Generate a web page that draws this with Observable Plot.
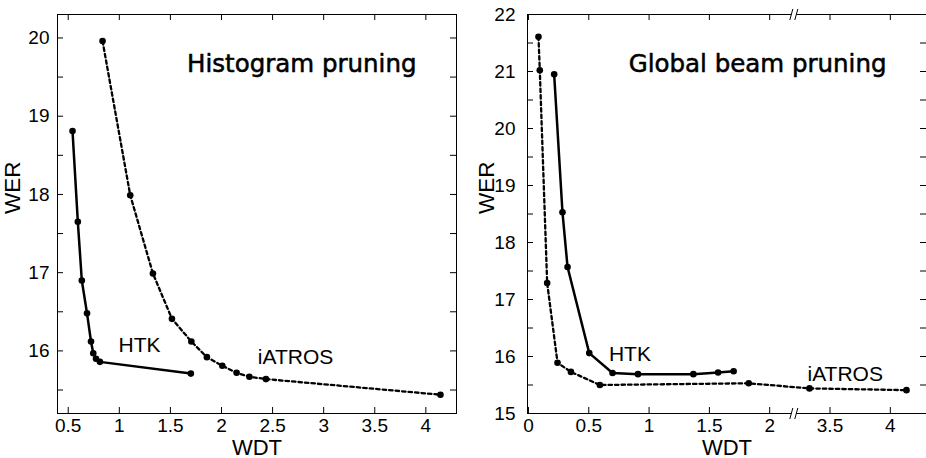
<!DOCTYPE html>
<html><head><meta charset="utf-8">
<script src="https://cdn.jsdelivr.net/npm/d3@7"></script>
<script src="https://cdn.jsdelivr.net/npm/@observablehq/plot@0.6"></script>
<style>
body{margin:0;background:#fff;}
#wrap{display:flex;width:926px;height:458px;overflow:hidden;background:#fff;}
#wrap svg{display:block;flex:none;}
</style></head><body><div id="wrap"></div>
<script>
// ---- Left panel: Histogram pruning ----
const histTitle = "Histogram pruning";
const histHtkWdt = [0.542, 0.594, 0.633, 0.684, 0.723, 0.745, 0.772, 0.81, 1.70];
const histHtkWer = [18.81, 17.65, 16.90, 16.48, 16.12, 15.97, 15.90, 15.86, 15.71];
const histIatrosWdt = [0.836, 1.107, 1.329, 1.515, 1.705, 1.857, 2.008, 2.148, 2.273, 2.435, 4.143];
const histIatrosWer = [19.96, 17.99, 16.99, 16.41, 16.12, 15.92, 15.81, 15.72, 15.67, 15.64, 15.44];
const histXTicks = [0.5, 1, 1.5, 2, 2.5, 3, 3.5, 4];
const histYTicks = [16, 17, 18, 19, 20];
const histYMinorTicks = [15.5, 16, 16.5, 17, 17.5, 18, 18.5, 19, 19.5, 20];
const histLabelText = ["HTK", "iATROS"];
const histLabelWdt = [1.198, 2.725];
const histLabelWer = [16.07, 15.92];

// ---- Right panel: Global beam pruning (broken x axis) ----
const beamTitle = "Global beam pruning";
const beamHtkWdt = [0.213, 0.282, 0.324, 0.504, 0.697, 0.908, 1.367, 1.572, 1.701];
const beamHtkWer = [20.95, 18.53, 17.57, 16.06, 15.71, 15.69, 15.69, 15.72, 15.74];
const beamIatrosWdt = [0.083, 0.094, 0.155, 0.241, 0.352, 0.592, 1.826, 3.33, 4.134];
const beamIatrosWer = [21.61, 21.02, 17.29, 15.89, 15.73, 15.50, 15.53, 15.44, 15.41];
const beamXTicks = [0, 0.5, 1, 1.5, 2, 3.5, 4];
const beamXTickLabels = ["0", "0.5", "1", "1.5", "2", "3.5", "4"];
const beamYTicks = [15, 16, 17, 18, 19, 20, 21, 22];
const beamYMinorTicks = [15.5, 16, 16.5, 17, 17.5, 18, 18.5, 19, 19.5, 20, 20.5, 21, 21.5];
const beamLabelText = ["HTK", "iATROS"];
const beamLabelWdt = [0.841, 3.626];
const beamLabelWer = [16.04, 15.68];
const beamBreakGap = 1.0;    // x axis jumps from 2.2 to 3.2
const beamBreakAt = 2.2;

const W = 463, H = 458, FRAME = 399, TICK = 6;
const font = "'Liberation Sans', Arial, Helvetica, sans-serif";
const titleFont = "'DejaVu Sans', sans-serif";

const brk = x => x > beamBreakAt + 0.3 ? x - beamBreakGap : x;

function series(xs, ys, dashed, fx) {
  const data = xs.map((x, i) => ({x: fx(x), y: ys[i]}));
  const lineOpts = {x: "x", y: "y", stroke: "#000", strokeWidth: dashed ? 2.3 : 2.5};
  if (dashed) lineOpts.strokeDasharray = "3.5,3";
  return [
    Plot.line(data, lineOpts),
    Plot.dot(data, {x: "x", y: "y", r: 3.3, fill: "#000", stroke: "none"})
  ];
}
function labels(text, xs, ys, fx) {
  return Plot.text(text.map((t, i) => ({t, x: fx(xs[i]), y: ys[i]})),
    {x: "x", y: "y", text: "t", fontSize: 21, fill: "#000"});
}
function tickMarks(xt, yt) {
  return [
    Plot.ruleX(xt, {x: d => d, insetTop: FRAME - TICK, stroke: "#000"}),
    Plot.ruleX(xt, {x: d => d, insetBottom: FRAME - TICK, stroke: "#000"}),
    Plot.ruleY(yt, {y: d => d, insetRight: FRAME - TICK, stroke: "#000"}),
    Plot.ruleY(yt, {y: d => d, insetLeft: FRAME - TICK, stroke: "#000"})
  ];
}
function axisTitles(dxLeft) {
  return [
    Plot.text(["WDT"], {frameAnchor: "bottom", dy: 41, fontSize: 22, fill: "#000"}),
    Plot.text(["WER"], {frameAnchor: "left", dx: dxLeft, rotate: -90, fontSize: 22.5, fill: "#000"})
  ];
}
function title(t) {
  return Plot.text([t], {frameAnchor: "top-right", dx: -40, dy: 40, textAnchor: "end",
    fontFamily: titleFont, fontSize: 24.5, fill: "#000", stroke: "#000", strokeWidth: 0.55});
}

const id = x => x;
const left = Plot.plot({
  width: W, height: H, marginLeft: 57, marginRight: 7, marginTop: 14, marginBottom: 45,
  x: {domain: [0.395, 4.30]}, y: {domain: [15.2, 20.3]},
  style: {fontFamily: font, fontSize: "19px", background: "#fff", color: "#000"},
  marks: [
    Plot.frame({stroke: "#000", strokeWidth: 1}),
    ...tickMarks(histXTicks, histYMinorTicks),
    Plot.axisX(histXTicks, {tickSize: 0, tickPadding: 5, label: null, tickFormat: d => String(d)}),
    Plot.axisY(histYTicks, {tickSize: 0, tickPadding: 8, label: null, tickFormat: d => String(d)}),
    ...axisTitles(-45),
    title(histTitle),
    ...series(histHtkWdt, histHtkWer, false, id),
    ...series(histIatrosWdt, histIatrosWer, true, id),
    labels(histLabelText, histLabelWdt, histLabelWer, id)
  ]
});

const slashFill = {draw(ctx) { ctx.moveTo(-4, 5.5); ctx.lineTo(1, 5.5); ctx.lineTo(4, -5.5); ctx.lineTo(-1, -5.5); ctx.closePath(); }};
const slashLines = {draw(ctx) { ctx.moveTo(-4, 5.5); ctx.lineTo(-1, -5.5); ctx.moveTo(1, 5.5); ctx.lineTo(4, -5.5); }};

const right = Plot.plot({
  width: W, height: H, marginLeft: 64, marginRight: 0, marginTop: 14, marginBottom: 45,
  x: {domain: [-0.008, 3.30]}, y: {domain: [15, 22]},
  style: {fontFamily: font, fontSize: "19px", background: "#fff", color: "#000"},
  marks: [
    Plot.frame({anchor: "left", stroke: "#000"}),
    Plot.frame({anchor: "top", stroke: "#000"}),
    Plot.frame({anchor: "bottom", stroke: "#000"}),
    ...tickMarks(beamXTicks.map(brk), beamYMinorTicks),
    Plot.axisX(beamXTicks.map(brk), {tickSize: 0, tickPadding: 5, label: null,
      tickFormat: (d, i) => beamXTickLabels[i]}),
    Plot.axisY(beamYTicks, {tickSize: 0, tickPadding: 12, label: null, tickFormat: d => String(d)}),
    ...axisTitles(-41),
    title(beamTitle),
    Plot.dot([beamBreakAt], {x: d => d, frameAnchor: "top", symbol: slashFill, fill: "#fff", stroke: "none"}),
    Plot.dot([beamBreakAt], {x: d => d, frameAnchor: "top", symbol: slashLines, fill: "none", stroke: "#000", strokeWidth: 1}),
    Plot.dot([beamBreakAt], {x: d => d, frameAnchor: "bottom", symbol: slashFill, fill: "#fff", stroke: "none"}),
    Plot.dot([beamBreakAt], {x: d => d, frameAnchor: "bottom", symbol: slashLines, fill: "none", stroke: "#000", strokeWidth: 1}),
    ...series(beamHtkWdt, beamHtkWer, false, brk),
    ...series(beamIatrosWdt, beamIatrosWer, true, brk),
    labels(beamLabelText, beamLabelWdt, beamLabelWer, brk)
  ]
});

const wrap = document.getElementById("wrap");
wrap.appendChild(left);
wrap.appendChild(right);
</script></body></html>
